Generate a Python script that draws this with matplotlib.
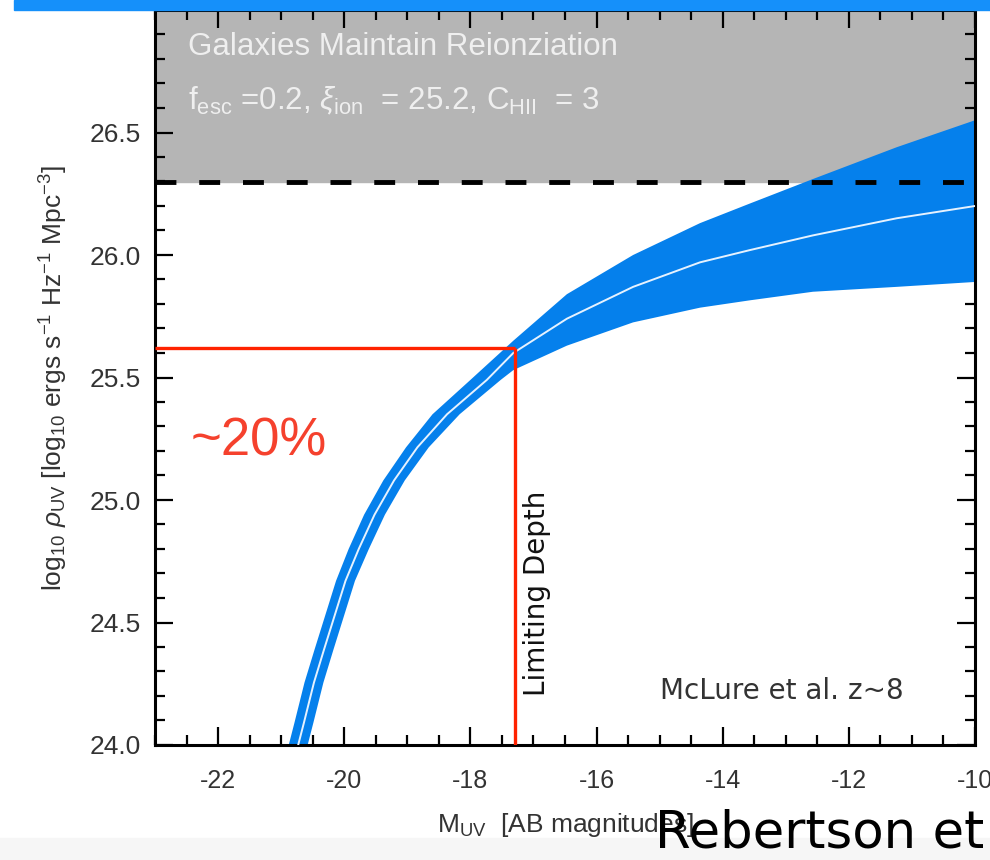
import numpy as np
import matplotlib.pyplot as plt
from matplotlib.patches import Rectangle

plt.rcParams['font.family'] = ['Liberation Sans', 'DejaVu Sans']
plt.rcParams['mathtext.fontset'] = 'custom'
plt.rcParams['mathtext.rm'] = 'Liberation Sans'
plt.rcParams['mathtext.it'] = 'Liberation Sans:italic'

# integrated UV luminosity density vs. limiting magnitude (McLure et al. z~8 LF)
m_center = [-20.73, -20.64, -20.48, -20.32, -20.15, -19.98, -19.77, -19.52, -19.21,
            -18.84, -18.37, -17.74, -17.32, -16.47, -15.42, -14.36, -13.57,
            -12.57, -11.24, -10.0]
rho_center = [24.00, 24.09, 24.255, 24.39, 24.53, 24.67, 24.80, 24.94, 25.08,
              25.215, 25.35, 25.49, 25.60, 25.74, 25.87, 25.97, 26.02,
              26.08, 26.15, 26.20]

m_upper = [-20.88, -20.79, -20.63, -20.47, -20.30, -20.13, -19.93, -19.685, -19.38,
           -19.02, -18.60, -18.00, -17.32, -16.47, -15.42, -14.36, -13.57,
           -12.57, -11.24, -10.0]
rho_upper = [24.00, 24.09, 24.255, 24.39, 24.53, 24.67, 24.80, 24.94, 25.08,
             25.215, 25.35, 25.49, 25.65, 25.84, 26.00, 26.13, 26.21,
             26.31, 26.44, 26.55]

m_lower = [-20.58, -20.49, -20.33, -20.17, -20.00, -19.83, -19.61, -19.355, -19.04,
           -18.66, -18.17, -17.52, -17.32, -16.47, -15.42, -14.36, -13.57,
           -12.57, -11.24, -10.0]
rho_lower = [24.00, 24.09, 24.255, 24.39, 24.53, 24.67, 24.80, 24.94, 25.08,
             25.215, 25.35, 25.49, 25.53, 25.63, 25.725, 25.785, 25.815,
             25.85, 25.87, 25.89]

rho_reion = 26.3      # needed to keep the universe ionized
m_limit = -17.3       # survey limiting depth
rho_limit = 25.62

x_ticks = [-22, -20, -18, -16, -14, -12, -10]
y_ticks = [24.0, 24.5, 25.0, 25.5, 26.0, 26.5]

fig = plt.figure(figsize=(9.9, 8.6), dpi=100)
fig.patches.append(Rectangle((0, 0), 1, 22 / 860, transform=fig.transFigure,
                             color='#F6F6F6', zorder=-5))
ax = fig.add_axes([155 / 990, 115 / 860, 820 / 990, 735 / 860])

ax.axhspan(rho_reion, 27.0, color='#B5B5B5', zorder=0)

band_x = np.concatenate([m_upper, m_lower[::-1]])
band_y = np.concatenate([rho_upper, rho_lower[::-1]])
ax.fill(band_x, band_y, color='#0580EC', lw=0, zorder=2)
ax.plot(m_center, rho_center, color='#E6F2FF', lw=1.4, zorder=3,
        solid_joinstyle='round')

ax.axhline(rho_reion, color='black', lw=3.5, dashes=(4.3, 4.7), zorder=4)

ax.plot([-23, m_limit], [rho_limit, rho_limit], color='#FF2200', lw=2.4, zorder=5,
        solid_capstyle='butt')
ax.plot([m_limit, m_limit], [24.0, rho_limit], color='#FF2200', lw=2.4, zorder=5,
        solid_capstyle='butt')

ax.text(-22.47, 26.85, 'Galaxies Maintain Reionziation', fontsize=22.5,
        color='#EFEFEF', va='center', ha='left')
ax.text(-22.47, 26.63,
        r'f$_{\rm esc}$ =0.2, $\xi_{\rm ion}$  = 25.2, C$_{\rm HII}$  = 3',
        fontsize=22.5, color='#EFEFEF', va='center', ha='left')
ax.text(-22.43, 25.24, '~20%', fontsize=38, color='#F5412D', va='center', ha='left')
ax.text(-16.95, 24.2, 'Limiting Depth', fontsize=20, rotation=90,
        va='bottom', ha='center', color='#111111', family=['DejaVu Sans'])
ax.text(-15.0, 24.22, 'McLure et al. z~8', fontsize=20, color='#333333',
        va='center', ha='left', family=['DejaVu Sans'])

ax.set_xlim(-23, -10)
ax.set_ylim(24.0, 27.0)
ax.set_xticks(x_ticks)
ax.set_xticklabels([str(t) for t in x_ticks])
ax.set_xticks(np.arange(-23, -9.9, 0.5), minor=True)
ax.set_yticks(y_ticks)
ax.set_yticklabels(['%.1f' % t for t in y_ticks])
ax.set_yticks(np.arange(24.0, 27.01, 0.1), minor=True)

ax.tick_params(which='both', direction='in', top=True, right=True,
               labelcolor='#333333', width=1.6)
ax.tick_params(which='major', length=13)
ax.tick_params(which='minor', length=7)
ax.tick_params(axis='x', pad=17, labelsize=18)
ax.tick_params(axis='y', pad=10, labelsize=19)
for s in ax.spines.values():
    s.set_linewidth(2.2)

ax.set_xlabel(r'M$_{\rm UV}$  [AB magnitudes]', fontsize=19, color='#333333',
              labelpad=13)
ax.set_ylabel(r'log$_{10}$ $\rho_{\rm UV}$ [log$_{10}$ ergs s$^{-1}$ Hz$^{-1}$ Mpc$^{-3}$]',
              fontsize=19, color='#333333', labelpad=14)

# top banner and footer credit
fig.patches.append(Rectangle((14 / 990, 1 - 10 / 860), 1, 10 / 860,
                             transform=fig.transFigure, color='#1590FA', zorder=10))
fig.text(655 / 990, 12 / 860, 'Rebertson et', fontsize=37, color='black',
         family=['DejaVu Sans'], ha='left', va='baseline', zorder=11)

fig.savefig('out.png', dpi=100)
